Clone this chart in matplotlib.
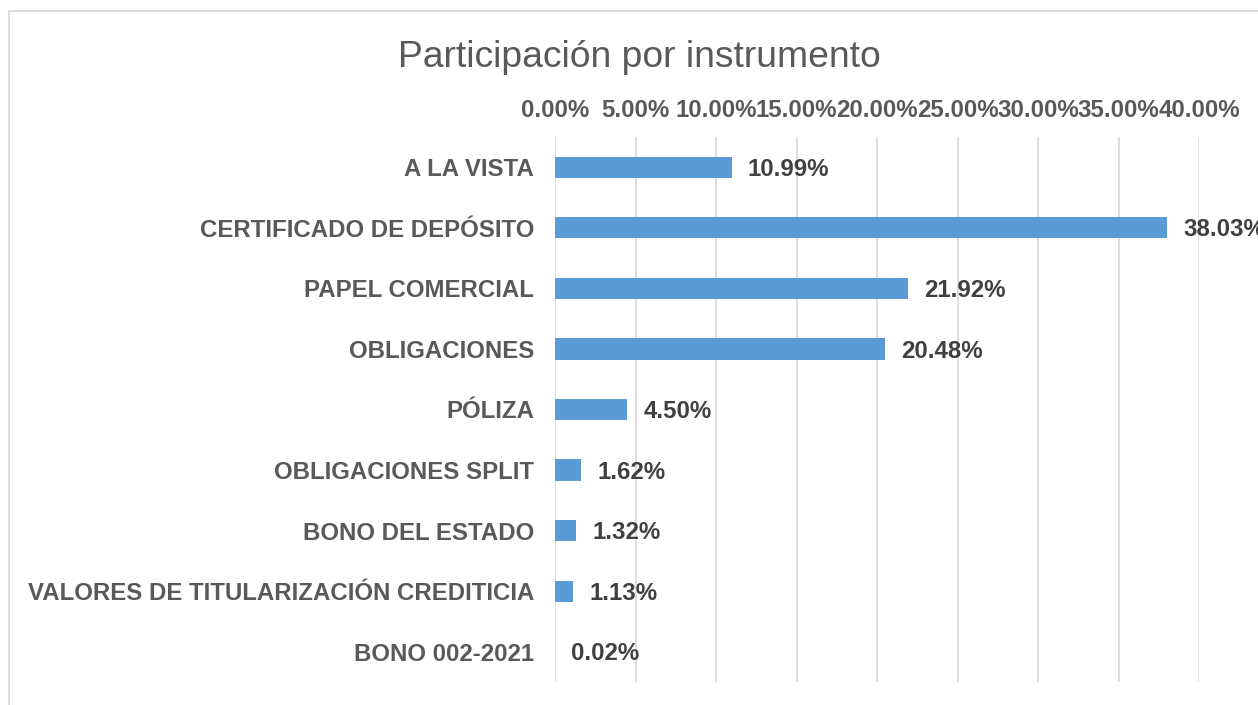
import matplotlib.pyplot as plt
import numpy as np
from matplotlib.patches import Rectangle
from matplotlib.ticker import FuncFormatter

plt.rcParams['font.family'] = ['Liberation Sans', 'DejaVu Sans']

# data (top to bottom as in the picture)
categorias = ["A LA VISTA", "CERTIFICADO DE DEPÓSITO", "PAPEL COMERCIAL",
              "OBLIGACIONES", "PÓLIZA", "OBLIGACIONES SPLIT", "BONO DEL ESTADO",
              "VALORES DE TITULARIZACIÓN CREDITICIA", "BONO 002-2021"]
valores = [10.99, 38.03, 21.92, 20.48, 4.50, 1.62, 1.32, 1.13, 0.02]
ticks = [0, 5, 10, 15, 20, 25, 30, 35, 40]

fig = plt.figure(figsize=(12.58, 7.05), dpi=100)
ax = fig.add_axes([555/1258, 1-682/705, (1199-555)/1258, (682-137)/705])

# chart border (cropped at right/bottom)
fig.patches.append(Rectangle((9/1258, -0.1), 1.2, 1.1-11/705, transform=fig.transFigure,
                             fill=False, edgecolor='#d9d9d9', linewidth=1.2))

fs = 17.3
y = np.arange(len(categorias))
ax.barh(y, valores, height=0.35, color='#5b9bd5', zorder=3)
for yi, v in zip(y, valores):
    ax.annotate(f"{v:.2f}%", (v, yi), xytext=(11.5, -1.5), textcoords='offset points',
                va='center', ha='left', fontsize=fs, fontweight='bold', color='#404040')

ax.set_ylim(len(categorias)-0.5, -0.5)
ax.set_xlim(0, 40)
ax.set_xticks(ticks)
ax.xaxis.set_major_formatter(FuncFormatter(lambda x, p: f"{x:.2f}%"))
ax.xaxis.tick_top()
ax.set_yticks(y)
ax.set_yticklabels(categorias)
ax.tick_params(axis='x', length=0, pad=11, labelsize=fs, labelcolor='#595959')
ax.tick_params(axis='y', length=0, pad=15, labelsize=fs, labelcolor='#595959')
for lab in ax.get_xticklabels() + ax.get_yticklabels():
    lab.set_fontweight('bold')
ax.grid(axis='x', color='#d9d9d9', linewidth=1.2, zorder=0)
for s in ax.spines.values():
    s.set_visible(False)

fig.text(639/1258, 1-67/705, "Participación por instrumento", ha='center', va='baseline',
         fontsize=26.8, color='#595959')

fig.savefig("out.png", dpi=100)
